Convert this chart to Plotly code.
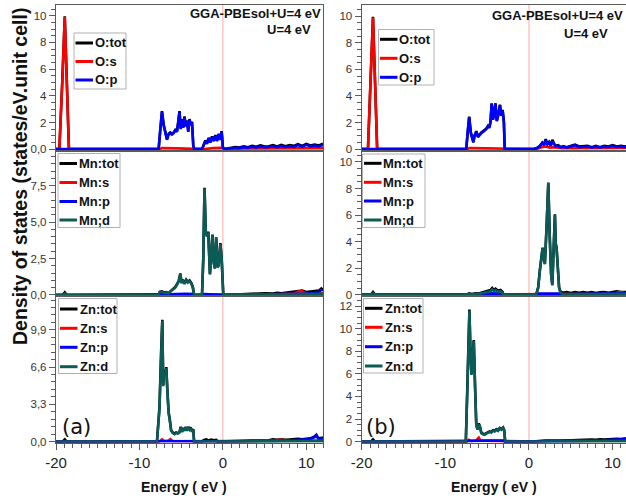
import plotly.graph_objects as go

W, H = 626, 499

# ---------------- (a) : energy (eV), DOS (states/eV.unit cell) ----------------
O_tot_a = [(-20, 0), (-19.6, 0), (-19.25, 5.0), (-18.95, 9.95), (-18.7, 5.0), (-18.45, 0),
           (-7.7, 0), (-7.5, 1.55), (-7.3, 2.85), (-7.1, 1.85), (-6.9, 1.25), (-6.7, 0.75),
           (-6.5, 1.15), (-6.3, 1.25), (-6.1, 1.15), (-5.9, 1.25), (-5.7, 1.45), (-5.5, 1.35),
           (-5.35, 2.05), (-5.2, 2.85), (-5.05, 1.55), (-4.9, 2.25), (-4.75, 1.65), (-4.6, 2.45),
           (-4.45, 1.75), (-4.3, 2.15), (-4.15, 1.35), (-4.0, 2.25), (-3.85, 1.85), (-3.7, 2.05),
           (-3.55, 0.3), (-3.45, 0), (-2.5, 0), (-2.3, 0.35), (-2.1, 0.65), (-1.9, 0.45),
           (-1.7, 0.85), (-1.5, 0.55), (-1.3, 0.95), (-1.1, 0.65), (-0.9, 1.05), (-0.7, 0.65),
           (-0.5, 1.15), (-0.3, 0.75), (-0.15, 1.35), (0.0, 0.15), (0.2, 0.02), (0.5, 0.05),
           (1.0, 0.1), (1.5, 0.15), (2.0, 0.12), (2.5, 0.22), (3.0, 0.15), (3.5, 0.25),
           (4.0, 0.18), (4.5, 0.28), (5.0, 0.2), (5.5, 0.22), (6.0, 0.3), (6.5, 0.2),
           (7.0, 0.32), (7.5, 0.22), (8.0, 0.3), (8.5, 0.25), (9.0, 0.38), (9.5, 0.25),
           (10.0, 0.4), (10.5, 0.28), (11.0, 0.35), (11.5, 0.28), (12.0, 0.4)]
O_s_a = [(-20, 0), (-19.6, 0), (-19.25, 5.0), (-18.95, 9.9), (-18.7, 5.0), (-18.45, 0),
         (-7.6, 0), (-7.3, 0.08), (-5.5, 0.06), (-3.5, 0.05), (-3.4, 0), (-2.4, 0),
         (-1.2, 0.08), (-0.1, 0.1), (0.2, 0), (1, 0.03), (3, 0.05), (5, 0.06), (7, 0.07),
         (9, 0.06), (11, 0.08), (12, 0.08)]
O_p_a = [(-20, 0), (-7.7, 0), (-7.5, 1.5), (-7.3, 2.8), (-7.1, 1.8), (-6.9, 1.2), (-6.7, 0.7),
         (-6.5, 1.1), (-6.3, 1.2), (-6.1, 1.1), (-5.9, 1.2), (-5.7, 1.4), (-5.5, 1.3),
         (-5.35, 2.0), (-5.2, 2.8), (-5.05, 1.5), (-4.9, 2.2), (-4.75, 1.6), (-4.6, 2.4),
         (-4.45, 1.7), (-4.3, 2.1), (-4.15, 1.3), (-4.0, 2.2), (-3.85, 1.8), (-3.7, 2.0),
         (-3.55, 0.3), (-3.45, 0), (-2.5, 0), (-2.3, 0.3), (-2.1, 0.6), (-1.9, 0.4),
         (-1.7, 0.8), (-1.5, 0.5), (-1.3, 0.9), (-1.1, 0.6), (-0.9, 1.0), (-0.7, 0.6),
         (-0.5, 1.1), (-0.3, 0.7), (-0.15, 1.3), (0.0, 0.1), (0.2, 0), (0.5, 0.03),
         (1.0, 0.07), (1.5, 0.1), (2.0, 0.08), (2.5, 0.15), (3.0, 0.1), (3.5, 0.18),
         (4.0, 0.12), (4.5, 0.2), (5.0, 0.13), (5.5, 0.15), (6.0, 0.22), (6.5, 0.14),
         (7.0, 0.24), (7.5, 0.15), (8.0, 0.22), (8.5, 0.17), (9.0, 0.3), (9.5, 0.18),
         (10.0, 0.32), (10.5, 0.2), (11.0, 0.26), (11.5, 0.2), (12.0, 0.32)]

Mn_tot_a = [(-20, 0), (-19.2, 0), (-18.95, 0.18), (-18.7, 0), (-7.7, 0), (-7.55, 0.22),
            (-7.3, 0.25), (-7.0, 0.15), (-6.8, 0.2), (-6.5, 0.12), (-6.2, 0.3), (-6.0, 0.38),
            (-5.7, 0.55), (-5.5, 0.75), (-5.3, 0.95), (-5.1, 1.48), (-4.95, 0.85), (-4.8, 1.05),
            (-4.6, 0.8), (-4.4, 1.05), (-4.2, 0.9), (-4.0, 1.0), (-3.8, 0.85), (-3.6, 0.55),
            (-3.45, 0), (-2.5, 0), (-2.35, 2.5), (-2.2, 7.35), (-2.05, 4.35), (-1.9, 4.05),
            (-1.75, 4.35), (-1.55, 1.45), (-1.4, 3.05), (-1.25, 4.15), (-1.1, 2.25),
            (-0.95, 1.85), (-0.8, 3.95), (-0.65, 1.95), (-0.5, 2.05), (-0.3, 3.55),
            (-0.15, 2.55), (-0.05, 1.55), (0.05, 0), (1.0, 0.02), (2.0, 0.05), (3.0, 0.08),
            (4.0, 0.1), (5.0, 0.12), (6.0, 0.1), (6.5, 0.15), (7.0, 0.12), (7.5, 0.15),
            (8.0, 0.18), (8.5, 0.2), (9.0, 0.28), (9.5, 0.3), (10.0, 0.2), (10.5, 0.22),
            (11.0, 0.25), (11.5, 0.3), (11.8, 0.45), (12.0, 0.35)]
Mn_s_a = [(-20, 0), (-7.6, 0), (-6.5, 0.04), (-3.5, 0.03), (-2.4, 0), (0, 0.02), (4, 0.04),
          (7, 0.06), (8.5, 0.1), (9.0, 0.22), (9.4, 0.28), (9.8, 0.15), (10.5, 0.1),
          (11.5, 0.12), (12, 0.1)]
Mn_p_a = [(-20, 0), (-7.6, 0), (-6.5, 0.05), (-4.5, 0.08), (-3.5, 0.06), (-3.4, 0), (-2.4, 0),
          (-2.2, 0.06), (-1, 0.05), (0, 0.04), (0.1, 0), (4, 0.03), (8, 0.06), (10, 0.1),
          (11, 0.15), (11.5, 0.2), (11.8, 0.35), (12, 0.3)]
Mn_d_a = [(-20, 0), (-19.2, 0), (-18.95, 0.1), (-18.7, 0), (-7.7, 0), (-7.55, 0.2),
          (-7.3, 0.22), (-7.0, 0.12), (-6.8, 0.18), (-6.5, 0.1), (-6.2, 0.28), (-6.0, 0.35),
          (-5.7, 0.5), (-5.5, 0.7), (-5.3, 0.9), (-5.1, 1.42), (-4.95, 0.8), (-4.8, 1.0),
          (-4.6, 0.75), (-4.4, 1.0), (-4.2, 0.85), (-4.0, 0.95), (-3.8, 0.8), (-3.6, 0.5),
          (-3.45, 0), (-2.5, 0), (-2.35, 2.45), (-2.2, 7.3), (-2.05, 4.3), (-1.9, 4.0),
          (-1.75, 4.3), (-1.55, 1.4), (-1.4, 3.0), (-1.25, 4.1), (-1.1, 2.2), (-0.95, 1.8),
          (-0.8, 3.9), (-0.65, 1.9), (-0.5, 2.0), (-0.3, 3.5), (-0.15, 2.5), (-0.05, 1.5),
          (0.05, 0), (2.0, 0.02), (4.0, 0.04), (6.0, 0.05), (8.0, 0.06), (10.0, 0.06),
          (12.0, 0.08)]

Zn_tot_a = [(-20, 0), (-19.2, 0), (-18.95, 0.2), (-18.7, 0), (-7.9, 0), (-7.6, 3.0),
            (-7.4, 8.0), (-7.26, 10.8), (-7.15, 5.0), (-7.05, 6.3), (-6.9, 6.0), (-6.78, 6.6),
            (-6.65, 4.5), (-6.5, 2.6), (-6.35, 1.9), (-6.2, 1.0), (-6.0, 0.8), (-5.8, 0.7),
            (-5.6, 0.8), (-5.4, 0.75), (-5.2, 0.85), (-5.05, 1.3), (-4.9, 0.9), (-4.75, 1.2),
            (-4.6, 1.0), (-4.45, 1.3), (-4.3, 1.0), (-4.15, 1.3), (-4.0, 1.1), (-3.85, 1.25),
            (-3.7, 0.9), (-3.55, 1.1), (-3.45, 0), (-2.5, 0), (-2.3, 0.12), (-2.0, 0.2),
            (-1.7, 0.1), (-1.4, 0.18), (-1.1, 0.12), (-0.8, 0.15), (-0.6, 0), (0.5, 0),
            (1.5, 0.03), (2.5, 0.06), (3.5, 0.08), (4.5, 0.1), (5.5, 0.12), (6.0, 0.2),
            (6.5, 0.15), (7.0, 0.2), (7.5, 0.15), (8.0, 0.18), (8.5, 0.22), (9.0, 0.25),
            (9.5, 0.2), (10.0, 0.25), (10.5, 0.28), (11.0, 0.45), (11.2, 0.6), (11.4, 0.35),
            (11.6, 0.3), (12.0, 0.35)]
Zn_s_a = [(-20, 0), (-7.6, 0), (-7.3, 0.2), (-7.0, 0.05), (-6.5, 0.1), (-6.3, 0.22),
          (-6.0, 0.05), (-3.5, 0.04), (-3.4, 0), (0, 0), (2, 0.03), (4, 0.05), (5.5, 0.08),
          (6.0, 0.15), (6.5, 0.12), (7.0, 0.18), (7.5, 0.1), (9.0, 0.1), (11, 0.12), (12, 0.1)]
Zn_p_a = [(-20, 0), (-7.6, 0), (-7.0, 0.05), (-5, 0.06), (-3.5, 0.05), (-3.4, 0), (0, 0),
          (3, 0.03), (6, 0.05), (8, 0.1), (9, 0.12), (10, 0.2), (10.7, 0.3), (11.0, 0.4),
          (11.2, 0.55), (11.4, 0.3), (11.6, 0.25), (12, 0.3)]
Zn_d_a = [(-20, 0), (-7.9, 0), (-7.6, 2.9), (-7.4, 7.8), (-7.26, 10.7), (-7.15, 4.9),
          (-7.05, 6.2), (-6.9, 5.9), (-6.78, 6.5), (-6.65, 4.4), (-6.5, 2.5), (-6.35, 1.8),
          (-6.2, 0.95), (-6.0, 0.75), (-5.8, 0.65), (-5.6, 0.75), (-5.4, 0.7), (-5.2, 0.8),
          (-5.05, 1.25), (-4.9, 0.85), (-4.75, 1.15), (-4.6, 0.95), (-4.45, 1.25), (-4.3, 0.95),
          (-4.15, 1.25), (-4.0, 1.05), (-3.85, 1.2), (-3.7, 0.85), (-3.55, 1.05), (-3.45, 0),
          (0, 0), (4, 0.02), (8, 0.03), (12, 0.04)]

# ---------------- (b) ----------------
O_tot_b = [(-20, 0), (-19.25, 0), (-18.95, 5.0), (-18.65, 9.95), (-18.4, 5.0), (-18.15, 0),
           (-7.5, 0), (-7.3, 1.55), (-7.15, 2.45), (-6.95, 1.25), (-6.8, 0.95), (-6.65, 0.55),
           (-6.5, 1.05), (-6.3, 1.35), (-6.1, 0.95), (-5.9, 1.15), (-5.7, 1.25), (-5.5, 1.35),
           (-5.3, 1.45), (-5.1, 1.55), (-4.9, 1.75), (-4.75, 1.65), (-4.6, 2.05), (-4.46, 3.45),
           (-4.3, 2.25), (-4.15, 3.05), (-4.0, 3.45), (-3.85, 2.15), (-3.65, 2.65),
           (-3.47, 3.35), (-3.3, 2.55), (-3.15, 2.95), (-3.0, 2.05), (-2.9, 0), (0.5, 0),
           (1.0, 0.1), (1.3, 0.25), (1.6, 0.5), (1.8, 0.35), (2.0, 0.75), (2.2, 0.4),
           (2.4, 0.55), (2.6, 0.3), (2.8, 0.7), (3.0, 0.4), (3.2, 0.25), (3.5, 0.3),
           (3.8, 0.15), (4.1, 0.22), (4.5, 0.15), (5.0, 0.25), (5.5, 0.35), (6.0, 0.2),
           (6.5, 0.22), (7.0, 0.25), (7.5, 0.15), (8.0, 0.25), (8.5, 0.15), (9.0, 0.25),
           (9.5, 0.2), (10.0, 0.3), (10.5, 0.2), (11.0, 0.25), (11.5, 0.2), (12, 0.25)]
O_s_b = [(-20, 0), (-19.25, 0), (-18.95, 5.0), (-18.65, 9.9), (-18.4, 5.0), (-18.15, 0),
         (-7.4, 0), (-7.1, 0.08), (-5, 0.06), (-3, 0.05), (-2.9, 0), (0.8, 0), (1.5, 0.15),
         (2.0, 0.2), (2.5, 0.12), (3.0, 0.15), (4, 0.08), (6, 0.08), (8, 0.08), (10, 0.1),
         (12, 0.1)]
O_p_b = [(-20, 0), (-7.5, 0), (-7.3, 1.5), (-7.15, 2.4), (-6.95, 1.2), (-6.8, 0.9),
         (-6.65, 0.5), (-6.5, 1.0), (-6.3, 1.3), (-6.1, 0.9), (-5.9, 1.1), (-5.7, 1.2),
         (-5.5, 1.3), (-5.3, 1.4), (-5.1, 1.5), (-4.9, 1.7), (-4.75, 1.6), (-4.6, 2.0),
         (-4.46, 3.4), (-4.3, 2.2), (-4.15, 3.0), (-4.0, 3.4), (-3.85, 2.1), (-3.65, 2.6),
         (-3.47, 3.3), (-3.3, 2.5), (-3.15, 2.9), (-3.0, 2.0), (-2.9, 0), (0.5, 0),
         (1.0, 0.08), (1.3, 0.2), (1.6, 0.45), (1.8, 0.3), (2.0, 0.65), (2.2, 0.35),
         (2.4, 0.5), (2.6, 0.25), (2.8, 0.6), (3.0, 0.35), (3.2, 0.2), (3.5, 0.25),
         (3.8, 0.12), (4.1, 0.18), (4.5, 0.12), (5.0, 0.2), (5.5, 0.3), (6.0, 0.15),
         (6.5, 0.18), (7.0, 0.2), (7.5, 0.12), (8.0, 0.2), (8.5, 0.12), (9.0, 0.2),
         (9.5, 0.15), (10.0, 0.25), (10.5, 0.15), (11.0, 0.2), (11.5, 0.15), (12, 0.2)]

Mn_tot_b = [(-20, 0), (-18.9, 0), (-18.65, 0.2), (-18.4, 0), (-7.4, 0), (-7.2, 0.1),
            (-6.8, 0.05), (-6.4, 0.1), (-6.0, 0.08), (-5.6, 0.15), (-5.2, 0.2), (-4.9, 0.3),
            (-4.6, 0.35), (-4.4, 0.5), (-4.2, 0.35), (-4.0, 0.45), (-3.7, 0.3), (-3.4, 0.35),
            (-3.15, 0.2), (-3.05, 0), (0.7, 0), (0.9, 0.1), (1.1, 0.55), (1.3, 1.85),
            (1.5, 3.15), (1.63, 3.55), (1.75, 2.75), (1.9, 2.35), (2.1, 5.05), (2.31, 8.45),
            (2.5, 4.05), (2.65, 1.55), (2.79, 0.75), (2.95, 3.55), (3.1, 6.05), (3.2, 3.85),
            (3.3, 3.55), (3.45, 2.05), (3.6, 0.55), (3.75, 0.25), (4.0, 0.15), (4.5, 0.2),
            (5.0, 0.12), (5.5, 0.2), (6.0, 0.15), (6.5, 0.2), (7.0, 0.15), (7.5, 0.2),
            (8.0, 0.12), (8.5, 0.18), (9.0, 0.2), (9.5, 0.15), (10.0, 0.22), (10.5, 0.25),
            (11.0, 0.2), (11.5, 0.22), (12, 0.2)]
Mn_s_b = [(-20, 0), (-7.4, 0), (-5, 0.03), (-3.1, 0.02), (-3.0, 0), (0.8, 0), (3, 0.03),
          (6, 0.05), (9, 0.06), (10.3, 0.1), (10.7, 0.2), (11.1, 0.18), (11.5, 0.1), (12, 0.08)]
Mn_p_b = [(-20, 0), (-7.4, 0), (-6, 0.04), (-4.5, 0.1), (-3.5, 0.08), (-3.05, 0), (0.8, 0),
          (1.0, 0.08), (2.0, 0.1), (3.0, 0.1), (3.7, 0.08), (4.0, 0.03), (7, 0.05), (10, 0.08),
          (12, 0.12)]
Mn_d_b = [(-20, 0), (-18.9, 0), (-18.65, 0.12), (-18.4, 0), (-7.4, 0), (-7.2, 0.06),
          (-6.8, 0.03), (-6.4, 0.07), (-6.0, 0.05), (-5.6, 0.1), (-5.2, 0.14), (-4.9, 0.22),
          (-4.6, 0.26), (-4.4, 0.4), (-4.2, 0.27), (-4.0, 0.35), (-3.7, 0.22), (-3.4, 0.26),
          (-3.15, 0.14), (-3.05, 0), (0.7, 0), (0.9, 0.08), (1.1, 0.5), (1.3, 1.8), (1.5, 3.1),
          (1.63, 3.5), (1.75, 2.7), (1.9, 2.3), (2.1, 5.0), (2.31, 8.4), (2.5, 4.0),
          (2.65, 1.5), (2.79, 0.7), (2.95, 3.5), (3.1, 6.0), (3.2, 3.8), (3.3, 3.5),
          (3.45, 2.0), (3.6, 0.5), (3.75, 0.15), (4.0, 0.05), (8.0, 0.05), (12, 0.06)]

Zn_tot_b = [(-20, 0), (-18.9, 0), (-18.65, 0.2), (-18.4, 0), (-7.55, 0), (-7.35, 5.0),
            (-7.2, 10.0), (-7.12, 11.7), (-7.0, 8.0), (-6.88, 6.0), (-6.75, 7.5), (-6.6, 9.0),
            (-6.45, 5.0), (-6.3, 1.5), (-6.15, 1.1), (-6.0, 1.6), (-5.85, 1.3), (-5.7, 0.8),
            (-5.5, 0.7), (-5.3, 0.65), (-5.1, 0.75), (-4.9, 0.8), (-4.7, 0.9), (-4.5, 0.85),
            (-4.3, 1.0), (-4.1, 0.95), (-3.9, 1.1), (-3.7, 1.0), (-3.5, 1.2), (-3.3, 1.1),
            (-3.1, 1.25), (-2.95, 1.0), (-2.85, 0), (0.5, 0), (1.0, 0.05), (2.0, 0.1),
            (3.0, 0.08), (3.5, 0.12), (4.0, 0.1), (5.0, 0.12), (6.0, 0.15), (6.5, 0.2),
            (7.0, 0.15), (7.5, 0.18), (8.0, 0.15), (8.5, 0.2), (9.0, 0.18), (9.5, 0.22),
            (10.0, 0.2), (10.5, 0.25), (11.0, 0.22), (11.5, 0.28), (12, 0.3)]
Zn_s_b = [(-20, 0), (-7.4, 0), (-7.2, 0.15), (-6.9, 0.05), (-6.3, 0.1), (-6.0, 0.35),
          (-5.8, 0.08), (-3.0, 0.04), (-2.9, 0), (0.5, 0), (2.0, 0.05), (3.0, 0.1), (3.5, 0.12),
          (4.0, 0.06), (7.0, 0.08), (10, 0.08), (12, 0.08)]
Zn_p_b = [(-20, 0), (-7.4, 0), (-7.0, 0.06), (-5.0, 0.08), (-3.0, 0.1), (-2.9, 0), (0.5, 0),
          (3, 0.04), (6, 0.06), (8, 0.1), (9, 0.12), (10, 0.15), (11, 0.2), (12, 0.3)]
Zn_d_b = [(-20, 0), (-7.55, 0), (-7.35, 4.9), (-7.2, 9.9), (-7.12, 11.6), (-7.0, 7.9),
          (-6.88, 5.9), (-6.75, 7.4), (-6.6, 8.9), (-6.45, 4.9), (-6.3, 1.45), (-6.15, 1.05),
          (-6.0, 1.5), (-5.85, 1.25), (-5.7, 0.75), (-5.5, 0.65), (-5.3, 0.6), (-5.1, 0.7),
          (-4.9, 0.75), (-4.7, 0.85), (-4.5, 0.8), (-4.3, 0.95), (-4.1, 0.9), (-3.9, 1.05),
          (-3.7, 0.95), (-3.5, 1.15), (-3.3, 1.05), (-3.1, 1.2), (-2.95, 0.95), (-2.85, 0),
          (0.5, 0), (4, 0.02), (8, 0.03), (12, 0.04)]

# axis ticks
X_TICKS = [-20, -10, 0, 10]
Y_TICKS = {
    1: ([0, 2, 4, 6, 8, 10], ["0,0", "2", "4", "6", "8", "10"]),
    2: ([0, 2.5, 5, 7.5], ["0,0", "2,5", "5,0", "7,5"]),
    3: ([0, 3.3, 6.6, 9.9], ["0,0", "3,3", "6,6", "9,9"]),
    4: ([0, 2, 4, 6, 8, 10], ["0", "2", "4", "6", "8", "10"]),
    5: ([0, 2, 4, 6, 8, 10], ["0", "2", "4", "6", "8", "10"]),
    6: ([0, 2, 4, 6, 8, 10, 12], ["0", "2", "4", "6", "8", "10", "12"]),
}

C_TOT, C_S, C_P, C_D = "#000000", "#ff0000", "#0000ff", "#0b5c57"
AXC = "#5a5a5a"
FONT = "Liberation Sans, Arial, sans-serif"

# (subplot index, [(name, series, colour)], legend box px, legend entry y px)
panels = [
    (1, [("O:tot", O_tot_a, C_TOT), ("O:s", O_s_a, C_S), ("O:p", O_p_a, C_P)],
     (74, 33, 126, 89), [43, 61.5, 80]),
    (2, [("Mn:tot", Mn_tot_a, C_TOT), ("Mn:s", Mn_s_a, C_S), ("Mn:p", Mn_p_a, C_P), ("Mn;d", Mn_d_a, C_D)],
     (58, 153.5, 120, 227.5), [163.5, 182.5, 201.5, 220]),
    (3, [("Zn:tot", Zn_tot_a, C_TOT), ("Zn:s", Zn_s_a, C_S), ("Zn:p", Zn_p_a, C_P), ("Zn:d", Zn_d_a, C_D)],
     (58.5, 298.5, 117, 373.5), [309, 328.3, 347.3, 366.7]),
    (4, [("O:tot", O_tot_b, C_TOT), ("O:s", O_s_b, C_S), ("O:p", O_p_b, C_P)],
     (378.5, 29.5, 434, 85), [39.3, 58.3, 77.3]),
    (5, [("Mn:tot", Mn_tot_b, C_TOT), ("Mn:s", Mn_s_b, C_S), ("Mn:p", Mn_p_b, C_P), ("Mn;d", Mn_d_b, C_D)],
     (362.5, 154, 425, 227.5), [163.3, 182.3, 201, 220]),
    (6, [("Zn:tot", Zn_tot_b, C_TOT), ("Zn:s", Zn_s_b, C_S), ("Zn:p", Zn_p_b, C_P), ("Zn:d", Zn_d_b, C_D)],
     (363.5, 298.5, 423, 373), [308.3, 327.3, 346.7, 366]),
]


def px(x):
    return x / W


def py(y):
    return 1 - y / H


X_DOM = {"a": [px(56), px(323)], "b": [px(361.7), 1.0]}
X_RNG = {"a": [-20, 12], "b": [-20, 11.6]}
Y_DOM = {"top": [py(150.5), py(5)], "mid": [py(296), py(150.5)], "bot": [py(442.7), py(296)]}
layout_spec = {
    1: ("a", "top", [-0.1, 10.8], 0.5), 2: ("a", "mid", [-0.07, 9.91], 0.5),
    3: ("a", "bot", [-0.1, 12.9], 0.66), 4: ("b", "top", [-0.1, 10.84], 0.5),
    5: ("b", "mid", [-0.1, 10.86], 0.5), 6: ("b", "bot", [-0.1, 12.9], 0.5),
}

fig = go.Figure()
shapes, annotations = [], []

for idx, series, box, entry_y in panels:
    sfx = "" if idx == 1 else str(idx)
    for name, pts, col in series:
        fig.add_trace(go.Scatter(
            x=[p[0] for p in pts], y=[p[1] for p in pts], mode="lines", name=name,
            line=dict(color=col, width=2.6), xaxis="x" + sfx, yaxis="y" + sfx,
            showlegend=False, hoverinfo="skip"))

    side, row, yrng, ymin = layout_spec[idx]
    bottom = row == "bot"
    tv, tt = Y_TICKS[idx]
    fig.layout["xaxis" + sfx] = dict(
        domain=X_DOM[side], range=X_RNG[side], anchor="y" + sfx, automargin=False,
        showline=True, linecolor=AXC, linewidth=1.4, mirror=True, showgrid=False, zeroline=False,
        tickmode="array", tickvals=X_TICKS, ticktext=[str(v) for v in X_TICKS],
        showticklabels=bottom, ticks="outside" if bottom else "", ticklen=6, tickwidth=1.2,
        tickcolor=AXC, tickfont=dict(family=FONT, size=15, color="#222"),
        minor=dict(tickvals=list(range(-20, 13)), ticks="outside" if bottom else "",
                   ticklen=4, tickwidth=1, tickcolor=AXC),
    )
    n_minor = int(yrng[1] / ymin) + 1
    fig.layout["yaxis" + sfx] = dict(
        domain=Y_DOM[row], range=yrng, anchor="x" + sfx, automargin=False,
        showline=True, linecolor=AXC, linewidth=1.4, mirror=True, showgrid=False, zeroline=False,
        tickmode="array", tickvals=tv, ticktext=tt, ticks="outside", ticklen=6, tickwidth=1.2,
        tickcolor=AXC, tickfont=dict(family=FONT, size=11.5, color="#333"),
        minor=dict(tickvals=[round(i * ymin, 3) for i in range(n_minor)], ticks="outside",
                   ticklen=3.5, tickwidth=1, tickcolor=AXC),
    )

    # Fermi level
    shapes.append(dict(type="line", xref="x" + sfx, yref=("y" + sfx) + " domain",
                       x0=0, x1=0, y0=0, y1=1, layer="below",
                       line=dict(color="rgba(255,110,110,0.6)", width=1)))

    # legend box and entries
    x0, y0, x1, y1 = box
    shapes.append(dict(type="rect", xref="paper", yref="paper", x0=px(x0), x1=px(x1),
                       y0=py(y1), y1=py(y0), line=dict(color="#b0b0b0", width=1),
                       fillcolor="white", layer="above"))
    for (name, _, col), ey in zip(series, entry_y):
        shapes.append(dict(type="line", xref="paper", yref="paper", x0=px(x0 + 1.5),
                           x1=px(x0 + 19), y0=py(ey), y1=py(ey), layer="above",
                           line=dict(color=col, width=3)))
        annotations.append(dict(xref="paper", yref="paper", x=px(x0 + 19), y=py(ey),
                                xanchor="left", yanchor="middle", showarrow=False,
                                text="<b>%s</b>" % name,
                                font=dict(family=FONT, size=13, color="#111")))

# headers
for xr, y1, xc, y2 in [(323, 13.5, 288.5, 30), (625, 15, 586, 34)]:
    annotations.append(dict(xref="paper", yref="paper", x=px(xr), y=py(y1), xanchor="right",
                            yanchor="middle", showarrow=False, text="<b>GGA-PBEsol+U=4 eV</b>",
                            font=dict(family=FONT, size=13, color="#111")))
    annotations.append(dict(xref="paper", yref="paper", x=px(xc), y=py(y2), xanchor="center",
                            yanchor="middle", showarrow=False, text="<b>U=4 eV</b>",
                            font=dict(family=FONT, size=13, color="#111")))

# panel tags
for xl, tag in [(60, "(a)"), (364, "(b)")]:
    annotations.append(dict(xref="paper", yref="paper", x=px(xl), y=py(426.5), xanchor="left",
                            yanchor="middle", showarrow=False, text=tag,
                            font=dict(family="DejaVu Sans, sans-serif", size=21, color="#111")))

# axis titles
for xc in [184, 493.5]:
    annotations.append(dict(xref="paper", yref="paper", x=px(xc), y=py(486.5), xanchor="center",
                            yanchor="middle", showarrow=False, text="<b>Energy ( eV )</b>",
                            font=dict(family=FONT, size=14, color="#111")))
annotations.append(dict(xref="paper", yref="paper", x=px(20), y=py(177), xanchor="center",
                        yanchor="middle", showarrow=False, textangle=-90,
                        text="<b>Density of states (states/eV.unit cell)</b>",
                        font=dict(family=FONT, size=19.5, color="#111")))

fig.update_layout(width=W, height=H, margin=dict(l=0, r=0, t=0, b=0),
                  paper_bgcolor="white", plot_bgcolor="white", showlegend=False,
                  shapes=shapes, annotations=annotations)

fig.write_html("out.html")
